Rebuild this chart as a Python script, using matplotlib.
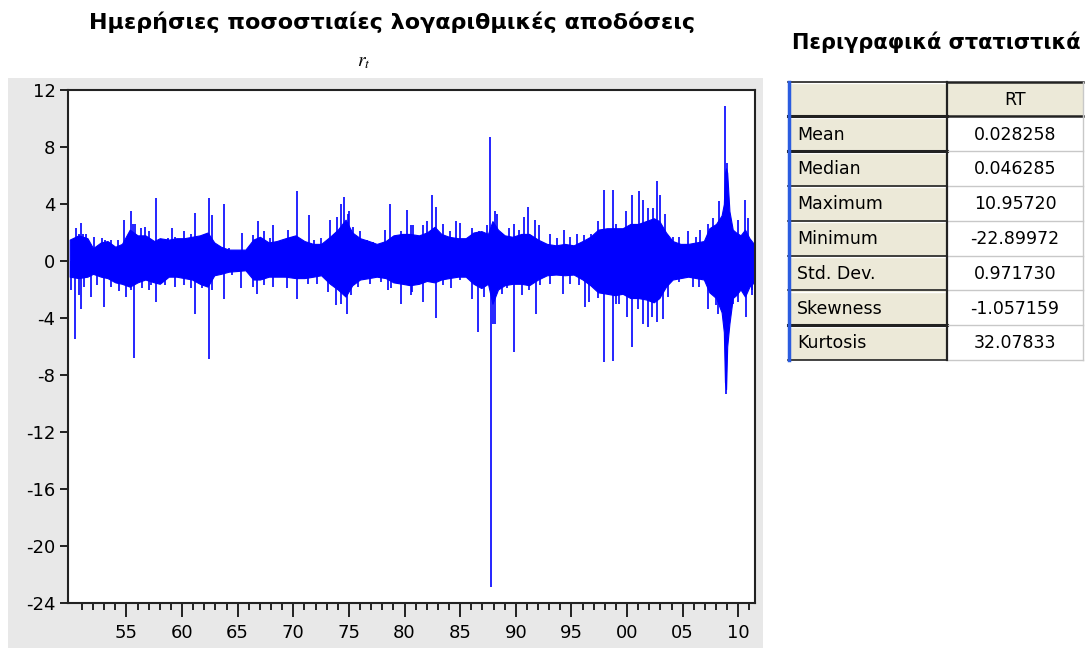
import matplotlib
matplotlib.use('Agg')
import matplotlib.pyplot as plt
from matplotlib.patches import Rectangle

# envelope of the dense daily band (year, upper, lower)
band_years = [1949.9, 1950.7, 1951.5, 1952.0, 1952.7, 1953.3, 1954.0, 1954.6, 1955.3, 1956.0,
              1956.7, 1957.5, 1958.0, 1958.8, 1959.5, 1960.2, 1960.9, 1961.6, 1962.3, 1962.9,
              1963.5, 1964.2, 1965.0, 1965.7, 1966.4, 1967.0, 1967.8, 1968.5, 1969.3, 1970.2,
              1971.0, 1971.8, 1972.5, 1973.3, 1974.0, 1974.7, 1975.3, 1976.0, 1976.8, 1977.5,
              1978.3, 1979.0, 1979.8, 1980.5, 1981.3, 1982.0, 1982.7, 1983.3, 1984.0, 1984.8,
              1985.5, 1986.2, 1986.9, 1987.5, 1987.9, 1988.4, 1989.0, 1989.7, 1990.5, 1991.2,
              1992.0, 1992.8, 1993.6, 1994.4, 1995.2, 1996.0, 1996.7, 1997.4, 1998.2, 1998.9,
              1999.6, 2000.3, 2001.0, 2001.7, 2002.4, 2002.9, 2003.5, 2004.1, 2004.8, 2005.5,
              2006.2, 2006.9, 2007.4, 2008.0, 2008.5, 2008.7, 2008.8, 2008.9, 2009.0, 2009.2,
              2009.5, 2009.8, 2010.2, 2010.6, 2011.0, 2011.4]
band_hi = [1.5, 1.8, 1.6, 0.9, 1.3, 1.4, 1.0, 1.2, 2.2, 1.8,
           1.8, 1.4, 1.6, 1.5, 1.6, 1.6, 1.7, 1.8, 2.0, 1.3,
           1.0, 0.8, 0.8, 0.8, 1.5, 1.7, 1.3, 1.4, 1.6, 1.8,
           1.4, 1.2, 1.2, 1.7, 2.2, 2.9, 2.0, 1.6, 1.4, 1.2,
           1.4, 1.8, 1.9, 1.9, 1.8, 2.0, 2.4, 1.9, 1.7, 1.6,
           1.6, 2.0, 2.1, 1.9, 2.8, 2.2, 1.8, 1.7, 1.9, 1.9,
           1.5, 1.2, 1.1, 1.2, 1.1, 1.4, 1.7, 2.2, 2.3, 2.3,
           2.3, 2.6, 2.6, 2.8, 3.0, 2.8, 2.0, 1.4, 1.2, 1.2,
           1.3, 1.4, 2.3, 2.6, 3.2, 4.0, 6.2, 6.5, 6.2, 3.5,
           2.2, 2.0, 1.8, 2.2, 1.6, 1.2]
band_lo = [-1.1, -1.2, -1.1, -0.9, -1.1, -1.2, -1.5, -1.6, -1.8, -1.5,
           -1.3, -1.5, -1.6, -1.1, -1.1, -1.2, -1.3, -1.6, -1.8, -1.0,
           -0.9, -0.75, -0.7, -0.65, -1.3, -1.3, -1.1, -1.1, -1.1, -1.2,
           -1.2, -1.1, -1.0, -1.6, -2.0, -2.5, -1.7, -1.3, -1.2, -1.1,
           -1.2, -1.5, -1.6, -1.7, -1.6, -1.4, -1.5, -1.3, -1.2, -1.1,
           -1.1, -1.6, -1.9, -1.6, -3.0, -2.0, -1.7, -1.6, -1.6, -1.7,
           -1.3, -1.0, -0.95, -1.0, -0.95, -1.3, -1.7, -2.2, -2.3, -2.4,
           -2.3, -2.6, -2.6, -2.7, -2.9, -2.6, -1.8, -1.3, -1.2, -1.1,
           -1.2, -1.3, -2.2, -2.6, -3.6, -5.0, -8.5, -9.0, -6.0, -4.4,
           -2.6, -2.4, -2.0, -2.5, -1.8, -1.5]

# single large daily moves (year, return %)
spike_years = [1950.0, 1950.4, 1950.5, 1950.9, 1950.9, 1951.8, 1952.1, 1953.0, 1954.3, 1954.8,
               1955.0, 1955.4, 1955.7, 1955.8, 1956.7, 1957.0, 1957.7, 1957.7, 1959.1, 1960.2,
               1961.2, 1961.2, 1962.4, 1962.4, 1962.7, 1963.8, 1963.8, 1965.3, 1965.4, 1966.8,
               1966.7, 1968.2, 1968.2, 1970.3, 1970.3, 1971.4, 1973.3, 1973.8, 1974.6, 1974.8,
               1975.0, 1978.5, 1978.7, 1979.7, 1980.2, 1980.6, 1981.7, 1982.5, 1982.8, 1982.8,
               1985.0, 1986.6, 1987.4, 1987.7, 1987.8, 1987.95, 1988.1, 1988.3, 1989.8, 1991.1,
               1991.7, 1991.8, 1994.3, 1996.2, 1997.9, 1997.9, 1998.7, 1998.7, 1999.0, 2000.4,
               2000.4, 2001.1, 2001.4, 2001.9, 2002.7, 2002.7, 2003.0, 2005.5, 2007.3, 2007.3,
               2008.2, 2008.3, 2008.8, 2008.85, 2009.0, 2009.5, 2010.6, 2010.7, 2010.9, 2011.2]
spike_vals = [-2.0, -5.5, 2.3, 2.7, -3.4, -2.5, 1.7, -3.2, -2.1, 2.9,
              -2.5, 3.5, -6.8, 2.6, 2.4, -2.0, 4.4, -2.9, 2.3, 2.1,
              3.4, -3.7, 4.4, -6.9, 3.2, 4.0, -2.7, -1.9, 2.0, 2.8,
              -2.3, 2.5, -1.8, 4.9, -2.7, 3.2, 2.9, -3.1, 4.5, -3.7,
              3.5, -2.0, 4.0, -3.0, 3.6, -2.4, -2.9, 4.6, -4.0, 3.8,
              2.7, -5.0, 2.5, 8.7, -22.9, -4.4, -4.4, 3.3, -6.4, 3.8,
              2.9, -3.7, 2.2, -3.2, 5.0, -7.1, 5.0, -7.0, -3.0, 4.6,
              -6.0, 4.9, -4.4, -4.6, 5.6, -4.3, 4.6, 2.1, 2.6, -3.4,
              -3.7, 4.2, 10.9, -9.3, 6.9, -3.0, 4.3, -3.9, 3.0, -2.4]

# smaller moves poking out of the band
small_years = [1950.1, 1950.7, 1951.1, 1951.4, 1952.8, 1953.1, 1953.6, 1954.2, 1955.6, 1956.3,
               1957.0, 1958.1, 1958.7, 1959.4, 1960.8, 1961.7, 1962.1, 1963.3, 1964.2,
               1950.7, 1951.2, 1952.4, 1953.6, 1955.4, 1956.4, 1957.2, 1958.5, 1959.4, 1960.2,
               1960.8, 1961.8, 1962.7, 1964.5,
               1966.4, 1967.4, 1967.9, 1968.9, 1969.5, 1969.8, 1971.9, 1972.5, 1973.9, 1974.3,
               1974.9, 1975.4, 1976.0, 1976.6, 1977.2, 1978.2, 1979.7, 1980.6,
               1966.4, 1967.4, 1969.4, 1971.3, 1972.1, 1973.1, 1974.3, 1975.2, 1975.8, 1976.9,
               1977.9, 1978.8,
               1980.8, 1981.7, 1982.0, 1983.5, 1984.1, 1984.6, 1986.1, 1986.7, 1988.1, 1989.4,
               1989.8, 1990.3, 1990.7, 1992.1, 1993.1, 1993.7, 1994.9, 1995.5, 1996.1,
               1980.7, 1983.5, 1984.2, 1985.0, 1986.1, 1987.1, 1988.8, 1989.2, 1990.6, 1991.2,
               1992.2, 1993.1, 1994.2, 1994.9, 1995.7,
               1996.8, 1997.4, 1999.0, 1999.9, 2001.4, 2001.9, 2002.3, 2003.4, 2004.1, 2004.7,
               2006.2, 2006.6, 2007.3, 2007.7, 2010.0,
               1996.6, 1997.4, 1999.3, 2000.0, 2001.0, 2002.2, 2003.2, 2003.7, 2004.7, 2005.9,
               2006.5, 2008.0, 2010.0, 2011.2]
small_vals = [1.4, 1.9, 1.9, 1.9, 1.6, 1.5, 1.5, 1.5, 2.6, 2.3,
              2.1, 1.5, 1.6, 1.7, 1.9, 1.7, 1.9, 1.05, 0.9,
              -2.4, -1.8, -1.7, -1.8, -2.0, -1.9, -1.7, -1.7, -1.8, -1.7,
              -1.9, -1.9, -2.0, -1.0,
              1.8, 2.1, 1.6, 1.1, 2.2, 1.7, 1.5, 1.6, 3.1, 4.0,
              3.3, 2.4, 2.1, 1.5, 1.35, 2.2, 2.1, 2.5,
              -1.8, -1.7, -1.9, -1.6, -1.6, -2.2, -3.0, -2.4, -1.8, -1.6,
              -1.45, -1.9,
              2.5, 2.5, 2.8, 2.6, 2.1, 2.8, 2.3, 2.1, 3.5, 2.3,
              2.6, 2.2, 3.1, 2.5, 1.9, 1.6, 1.7, 1.9, 1.8,
              -2.2, -1.7, -1.9, -1.3, -2.7, -2.5, -2.3, -1.9, -2.4, -2.0,
              -1.7, -1.6, -2.3, -1.6, -1.7,
              1.9, 2.8, 2.6, 3.5, 4.3, 3.7, 3.7, 3.3, 1.7, 1.7,
              1.7, 2.2, 1.6, 3.0, 2.9,
              -2.9, -2.6, -3.0, -3.9, -3.4, -3.9, -4.1, -2.5, -1.45, -1.8,
              -1.8, -3.1, -2.9, -2.0]

major_years = [1955, 1960, 1965, 1970, 1975, 1980, 1985, 1990, 1995, 2000, 2005, 2010]
major_labels = ['55', '60', '65', '70', '75', '80', '85', '90', '95', '00', '05', '10']
minor_years = list(range(1951, 2012))
y_ticks = [12, 8, 4, 0, -4, -8, -12, -16, -20, -24]

stat_names = ['Mean', 'Median', 'Maximum', 'Minimum', 'Std. Dev.', 'Skewness', 'Kurtosis']
stat_values = ['0.028258', '0.046285', '10.95720', '-22.89972', '0.971730', '-1.057159', '32.07833']
series_name = 'RT'

BLUE = '#0000ff'
W, H = 1085, 648

if __name__ == '__main__':
    plt.rcParams['mathtext.fontset'] = 'stix'

    fig = plt.figure(figsize=(W / 100, H / 100), dpi=100)
    fig.patch.set_facecolor('white')

    # overlay in pixel coordinates for the backgrounds and the statistics table
    bg = fig.add_axes([0, 0, 1, 1], zorder=0)
    bg.set_xlim(0, W)
    bg.set_ylim(H, 0)
    bg.axis('off')
    bg.add_patch(Rectangle((8, 78), 755, H - 78, facecolor='#e8e8e8', edgecolor='none'))

    bg.text(392, 22, 'Ημερήσιες ποσοστιαίες λογαριθμικές αποδόσεις', ha='center', va='center',
            fontsize=16, fontweight='bold')
    bg.text(364, 62, r'$r_t$', ha='center', va='center', fontsize=14)
    bg.text(936, 42, 'Περιγραφικά στατιστικά', ha='center', va='center',
            fontsize=15, fontweight='bold')

    # table
    tx0, tx1, tx2 = 788, 947, 1083
    ty0, rh = 81.5, 34.8
    nrows = len(stat_names) + 1
    for i in range(nrows):
        top = ty0 + i * rh
        bg.add_patch(Rectangle((tx0, top), tx1 - tx0, rh, facecolor='#ece9d8', edgecolor='none'))
        bg.add_patch(Rectangle((tx1, top), tx2 - tx1, rh,
                               facecolor='#ece9d8' if i == 0 else 'white', edgecolor='none'))
        bg.plot([tx0 + 2, tx1], [top + 1.5, top + 1.5], color='white', lw=1)
        lw = 2.2 if i in (1, 2, 7) else 1.2
        bg.plot([tx0, tx1], [top, top], color='#222222', lw=lw)
        bg.plot([tx1, tx2], [top, top], color='#222222' if i <= 1 else '#c8c8c8',
                lw=1.8 if i <= 1 else 1.0)
    bottom = ty0 + nrows * rh
    bg.plot([tx0, tx1], [bottom, bottom], color='#222222', lw=1.2)
    bg.plot([tx1, tx2], [bottom, bottom], color='#c8c8c8', lw=1.0)
    bg.plot([tx1, tx1], [ty0, bottom], color='#222222', lw=1.6)
    bg.plot([tx2, tx2], [ty0, bottom], color='#c8c8c8', lw=1.0)
    bg.plot([tx0 + 1, tx0 + 1], [ty0, bottom], color='#2a5ce0', lw=2.5)

    bg.text((tx1 + tx2) / 2, ty0 + rh / 2 + 1, series_name, ha='center', va='center', fontsize=12.5)
    for i, (name, val) in enumerate(zip(stat_names, stat_values)):
        yc = ty0 + (i + 1.5) * rh + 1
        bg.text(tx0 + 9, yc, name, ha='left', va='center', fontsize=12.5)
        bg.text((tx1 + tx2) / 2, yc, val, ha='center', va='center', fontsize=12.5)

    # time series chart
    ax = fig.add_axes([68 / W, 1 - 603 / H, (755 - 68) / W, (603 - 90) / H], zorder=2)
    ax.set_facecolor('white')
    ax.fill_between(band_years, band_lo, band_hi, color=BLUE, lw=0.8)
    ax.vlines(small_years, 0, small_vals, colors=BLUE, lw=1.2)
    ax.vlines(spike_years, 0, spike_vals, colors=BLUE, lw=1.2)

    ax.set_xlim(1949.75, 2011.5)
    ax.set_ylim(-24, 12)
    ax.set_yticks(y_ticks)
    ax.set_yticklabels([str(t) for t in y_ticks])
    ax.set_xticks(major_years)
    ax.set_xticklabels(major_labels)
    ax.set_xticks(minor_years, minor=True)
    ax.tick_params(axis='x', which='major', direction='out', length=10, width=1.2, pad=5, labelsize=13)
    ax.tick_params(axis='x', which='minor', direction='out', length=5, width=1.2)
    ax.tick_params(axis='y', direction='out', length=6, width=1.2, pad=3, labelsize=13)
    for s in ax.spines.values():
        s.set_linewidth(1.5)
        s.set_color('#222222')

    fig.savefig('out.png', dpi=100)
